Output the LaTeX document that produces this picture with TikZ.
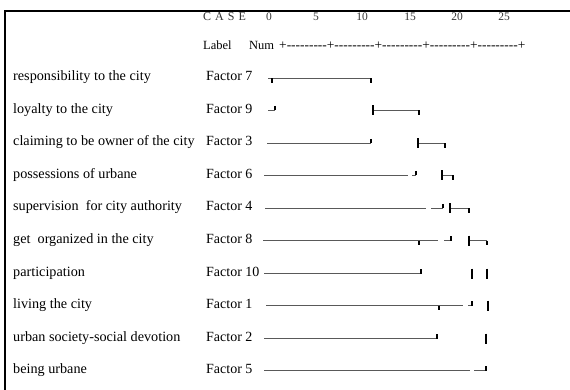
\documentclass[tikz,border=0pt]{standalone}
\usepackage{fontspec}
\setmainfont{Liberation Serif}
\newfontfamily\rulerfont{Liberation Serif}
\begin{document}
\begin{tikzpicture}[x=1pt, y=-1pt,
  item/.style={anchor=base west, inner sep=0pt, font=\fontsize{14.2}{16}\selectfont},
  factor/.style={anchor=base west, inner sep=0pt, font=\fontsize{14}{16}\selectfont},
  head/.style={anchor=base, inner sep=0pt, text=black!80, font=\fontsize{11.5}{12}\selectfont},
  stem/.style={draw=black!65, line width=1.5pt},
  tick/.style={draw=black, line width=1.8pt}]
\useasboundingbox (0,0) rectangle (570,390);
\draw[line width=1.6pt, line join=miter] (570,11) -- (5,11) -- (5,390);
% header
\node[head, anchor=base west, font={\fontsize{12}{12}\selectfont\spaceskip 4pt\relax}] (case) at (203,20.5) {C A S E};
\node[head] (n0) at (269,20.5) {0};
\node[head] (n5) at (316,20.5) {5};
\node[head] (n10) at (362,20.5) {10};
\node[head] (n15) at (410,20.5) {15};
\node[head] (n20) at (457,20.5) {20};
\node[head] (n25) at (504,20.5) {25};
\node[item, font=\fontsize{12.5}{14}\selectfont] (label) at (203,50) {Label};
\node[item, font=\fontsize{12.5}{14}\selectfont] (num) at (249,50) {Num};
\node[item, font=\rulerfont\fontsize{13.4}{14}\selectfont] (ruler) at (279,50) {+---------+---------+---------+---------+---------+};
% case labels
\node[item] (l1) at (13,81) {responsibility to the city};
\node[item] (l2) at (13,113.5) {loyalty to the city};
\node[item] (l3) at (13,146) {claiming to be owner of the city};
\node[item] (l4) at (13,178.5) {possessions of urbane};
\node[item] (l5) at (13,211) {supervision\ \ for city authority};
\node[item] (l6) at (13,243.5) {get\ \ organized in the city};
\node[item] (l7) at (13,276) {participation};
\node[item] (l8) at (13,308.5) {living the city};
\node[item] (l9) at (13,341) {urban society-social devotion};
\node[item] (l10) at (13,373.5) {being urbane};
\node[factor] (f7) at (206,81) {Factor 7};
\node[factor] (f9) at (206,113.5) {Factor 9};
\node[factor] (f3) at (206,146) {Factor 3};
\node[factor] (f6) at (206,178.5) {Factor 6};
\node[factor] (f4) at (206,211) {Factor 4};
\node[factor] (f8) at (206,243.5) {Factor 8};
\node[factor] (f10) at (206,276) {Factor 10};
\node[factor] (f1) at (206,308.5) {Factor 1};
\node[factor] (f2) at (206,341) {Factor 2};
\node[factor] (f5) at (206,373.5) {Factor 5};
% tree, row by row
\draw[stem] (268,78.5) -- (371,78.5);
\draw[tick] (272,78.5) -- (272,83);
\draw[tick] (371,78.5) -- (371,83);
\draw[stem] (268,110.5) -- (275,110.5);
\draw[tick] (275,106) -- (275,110.5);
\draw[stem] (373,110.5) -- (419,110.5);
\draw[tick] (373,105.5) -- (373,115.5);
\draw[tick] (419,110.5) -- (419,115);
\draw[stem] (267,143.5) -- (371,143.5);
\draw[tick] (371,139) -- (371,143.5);
\draw[stem] (418,143.5) -- (445,143.5);
\draw[tick] (418,138.5) -- (418,148.5);
\draw[tick] (445,143.5) -- (445,148);
\draw[stem] (264,175.5) -- (408,175.5);
\draw[stem] (412,175.5) -- (416,175.5);
\draw[tick] (416,171) -- (416,175.5);
\draw[stem] (442,175.5) -- (453,175.5);
\draw[tick] (442,170.5) -- (442,180.5);
\draw[tick] (453,175.5) -- (453,180);
\draw[stem] (265,208.5) -- (426,208.5);
\draw[stem] (431,208.5) -- (443,208.5);
\draw[tick] (443,204) -- (443,208.5);
\draw[stem] (450,208.5) -- (469,208.5);
\draw[tick] (450,203.5) -- (450,213.5);
\draw[tick] (469,208.5) -- (469,213);
\draw[stem] (263,240.5) -- (438,240.5);
\draw[tick] (419,240.5) -- (419,245);
\draw[stem] (444,240.5) -- (451,240.5);
\draw[tick] (451,236) -- (451,240.5);
\draw[stem] (469,240.5) -- (487,240.5);
\draw[tick] (469,235.5) -- (469,245.5);
\draw[tick] (487,240.5) -- (487,245);
\draw[stem] (264,273.5) -- (421,273.5);
\draw[tick] (421,269) -- (421,273.5);
\draw[tick] (472,268.5) -- (472,278.5);
\draw[tick] (487,268.5) -- (487,278.5);
\draw[stem] (266,305.5) -- (463,305.5);
\draw[tick] (439,305.5) -- (439,310);
\draw[stem] (468,305.5) -- (472,305.5);
\draw[tick] (472,301) -- (472,305.5);
\draw[tick] (488,300.5) -- (488,310.5);
\draw[stem] (264,338.5) -- (437,338.5);
\draw[tick] (437,334) -- (437,338.5);
\draw[tick] (486,333.5) -- (486,343.5);
\draw[stem] (264,370.5) -- (470,370.5);
\draw[stem] (474,370.5) -- (486,370.5);
\draw[tick] (486,366) -- (486,370.5);
\end{tikzpicture}
\end{document}
